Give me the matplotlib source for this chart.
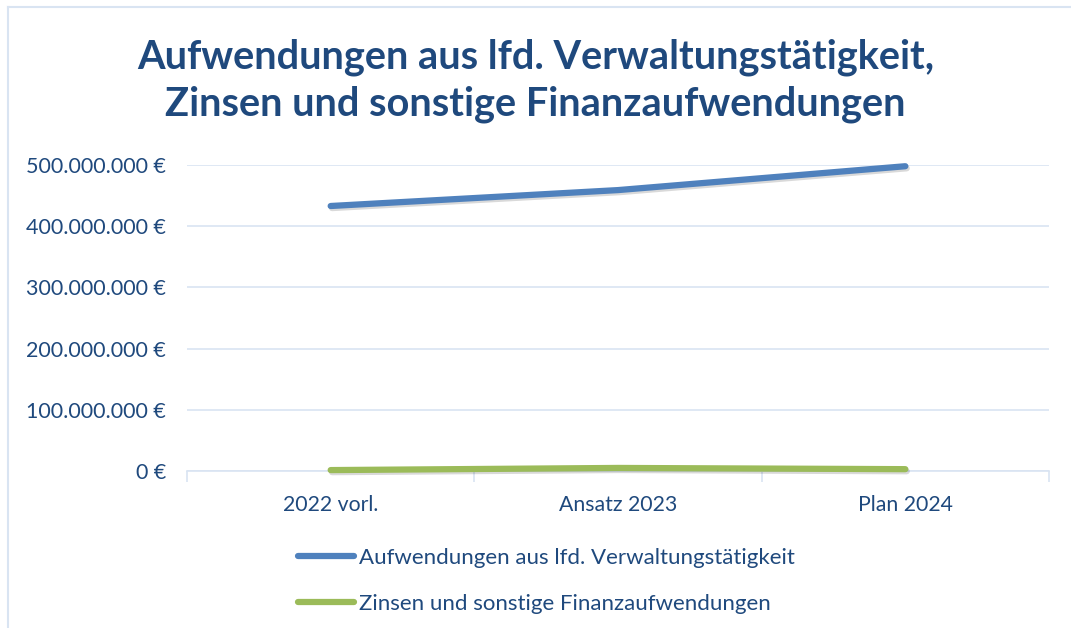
import matplotlib.pyplot as plt
import matplotlib.patheffects as pe
from matplotlib.lines import Line2D
from matplotlib.ticker import FuncFormatter, FixedLocator

categories = ['2022 vorl.', 'Ansatz 2023', 'Plan 2024']
verwaltung = [433000000, 459000000, 498000000]
zinsen = [1500000, 5000000, 3000000]
series_names = ['Aufwendungen aus lfd. Verwaltungstätigkeit',
                'Zinsen und sonstige Finanzaufwendungen']
colors = ['#4F81BD', '#9BBB59']

text_col = '#1F497D'
grid_col = '#D9E4F2'

plt.rcParams['font.family'] = ['Lato', 'DejaVu Sans']

fig = plt.figure(figsize=(10.71, 6.28), dpi=100)
ax = fig.add_axes([187 / 1071, 1 - 471 / 628, (1049 - 187) / 1071, (471 - 165) / 628])

x = [i + 0.5 for i in range(len(categories))]
shadow = [pe.SimpleLineShadow(offset=(1, -1.5), alpha=0.15, shadow_color='black'), pe.Normal()]
ax.plot(x, verwaltung, color=colors[0], lw=4.5, solid_capstyle='round',
        path_effects=shadow, clip_on=False, zorder=3)
ax.plot(x, zinsen, color=colors[1], lw=4.5, solid_capstyle='round',
        path_effects=shadow, clip_on=False, zorder=3)

ax.set_xlim(0, 3)
ax.set_ylim(0, 500000000)
ax.set_yticks(range(0, 500000001, 100000000))
ax.yaxis.set_major_formatter(FuncFormatter(lambda v, p: f'{int(v):,} €'.replace(',', '.')))
ax.set_xticks(x)
ax.set_xticklabels(categories)
ax.xaxis.set_minor_locator(FixedLocator([0, 1, 2, 3]))
ax.tick_params(axis='x', which='major', length=0, pad=17, labelsize=15.3, labelcolor=text_col)
ax.tick_params(axis='x', which='minor', length=8, color=grid_col, width=1.2, direction='out')
ax.tick_params(axis='y', length=0, pad=15, labelsize=15.5, labelcolor=text_col)
ax.grid(axis='y', color=grid_col, lw=1.2)
ax.set_axisbelow(True)
for s in ['top', 'right', 'left']:
    ax.spines[s].set_visible(False)
ax.spines['bottom'].set_color(grid_col)
ax.spines['bottom'].set_linewidth(1.2)

fig.text(0.5, 1 - 81 / 628, 'Aufwendungen aus lfd. Verwaltungstätigkeit,\nZinsen und sonstige Finanzaufwendungen',
         ha='center', va='center', fontsize=28.6, fontweight='bold', color=text_col, linespacing=1.3)

handles = [Line2D([], [], color=c, lw=4.5, solid_capstyle='round') for c in colors]
fig.legend(handles, series_names, loc='upper left', bbox_to_anchor=(298 / 1071, 1 - 548 / 628),
           frameon=False, fontsize=16, labelcolor=text_col, handlelength=2.5, handletextpad=0.23,
           labelspacing=1.15, borderpad=0, borderaxespad=0)

# chart frame (top and left edges visible)
fig.add_artist(Line2D([8 / 1071, 8 / 1071], [0, 1 - 7 / 628], color=grid_col, lw=1.5))
fig.add_artist(Line2D([8 / 1071, 1], [1 - 7 / 628, 1 - 7 / 628], color=grid_col, lw=1.5))

fig.savefig('out.png', dpi=100)
